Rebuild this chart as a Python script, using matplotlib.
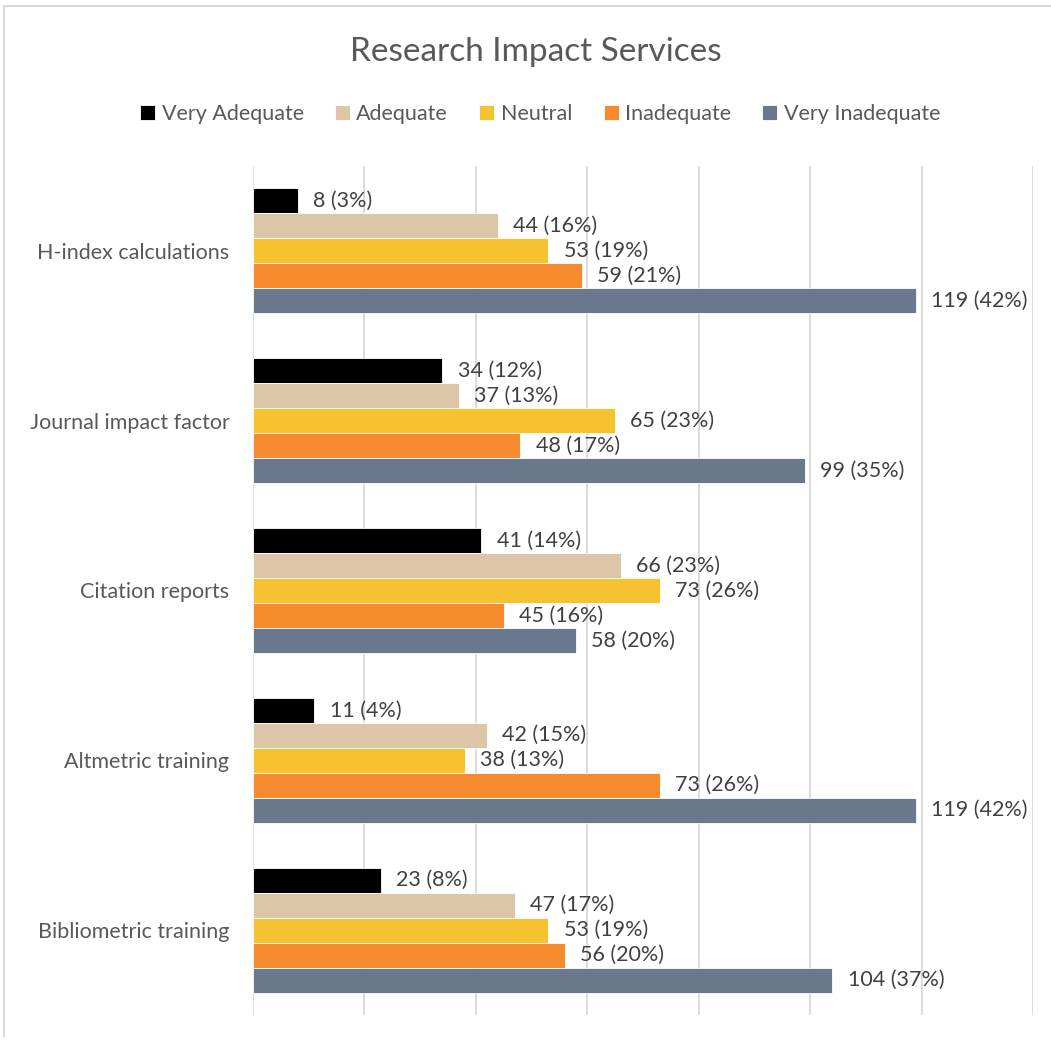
import matplotlib.pyplot as plt
import numpy as np

# Chart data
categories = ["H-index calculations", "Journal impact factor", "Citation reports",
              "Altmetric training", "Bibliometric training"]
series_names = ["Very Adequate", "Adequate", "Neutral", "Inadequate", "Very Inadequate"]
very_adequate = [8, 34, 41, 11, 23]
adequate = [44, 37, 66, 42, 47]
neutral = [53, 65, 73, 38, 53]
inadequate = [59, 48, 45, 73, 56]
very_inadequate = [119, 99, 58, 119, 104]
pct_very_adequate = [3, 12, 14, 4, 8]
pct_adequate = [16, 13, 23, 15, 17]
pct_neutral = [19, 23, 26, 13, 19]
pct_inadequate = [21, 17, 16, 26, 20]
pct_very_inadequate = [42, 35, 20, 42, 37]

colors = ["#000000", "#DDC6A8", "#F6C230", "#F58A2F", "#6A788E"]

plt.rcParams['font.family'] = ['Lato', 'DejaVu Sans']

fig = plt.figure(figsize=(10.51, 10.41), dpi=100)
ax = fig.add_axes([253 / 1051, 1 - 1015 / 1041, 780 / 1051, 849 / 1041])

values = [very_adequate, adequate, neutral, inadequate, very_inadequate]
pcts = [pct_very_adequate, pct_adequate, pct_neutral, pct_inadequate, pct_very_inadequate]
y = np.arange(len(categories))
h = 0.147

for j, (vals, pc) in enumerate(zip(values, pcts)):
    ypos = y + (j - 2) * h
    ax.barh(ypos, vals, height=h, color=colors[j], edgecolor='white',
            linewidth=0.6, label=series_names[j], zorder=3)
    for yy, v, p in zip(ypos, vals, pc):
        ax.annotate(f"{v} ({p}%)", (v, yy), xytext=(11, 0), textcoords='offset points',
                    va='center', ha='left', fontsize=15.5, color='#404040')

ax.set_xlim(0, 140)
ax.set_ylim(len(categories) - 0.5, -0.5)
ax.set_xticks(np.arange(0, 141, 20))
ax.xaxis.grid(True, color='#D9D9D9', linewidth=1.3, zorder=0)
ax.tick_params(axis='x', length=0, labelbottom=False)
ax.set_yticks(y)
ax.set_yticklabels(categories, fontsize=15.5, color='#595959')
ax.tick_params(axis='y', length=0, pad=17)
for s in ax.spines.values():
    s.set_visible(False)

fig.text(0.51, 1 - 52 / 1041, "Research Impact Services", ha='center', va='center',
         fontsize=24, color='#595959')
fig.legend(loc='center', bbox_to_anchor=(0.514, 1 - 114 / 1041), ncol=5, frameon=False,
           fontsize=15.5, handlelength=0.7, handleheight=0.7, handletextpad=0.3,
           columnspacing=1.45, labelcolor='#595959')

# chart area border (top and left visible)
fig.add_artist(plt.Line2D([4 / 1051, 1], [1 - 6 / 1041, 1 - 6 / 1041], color='#D9D9D9', lw=1.5))
fig.add_artist(plt.Line2D([4 / 1051, 4 / 1051], [1 - 6 / 1041, 0.005], color='#D9D9D9', lw=1.5))

fig.savefig("out.png", dpi=100)
